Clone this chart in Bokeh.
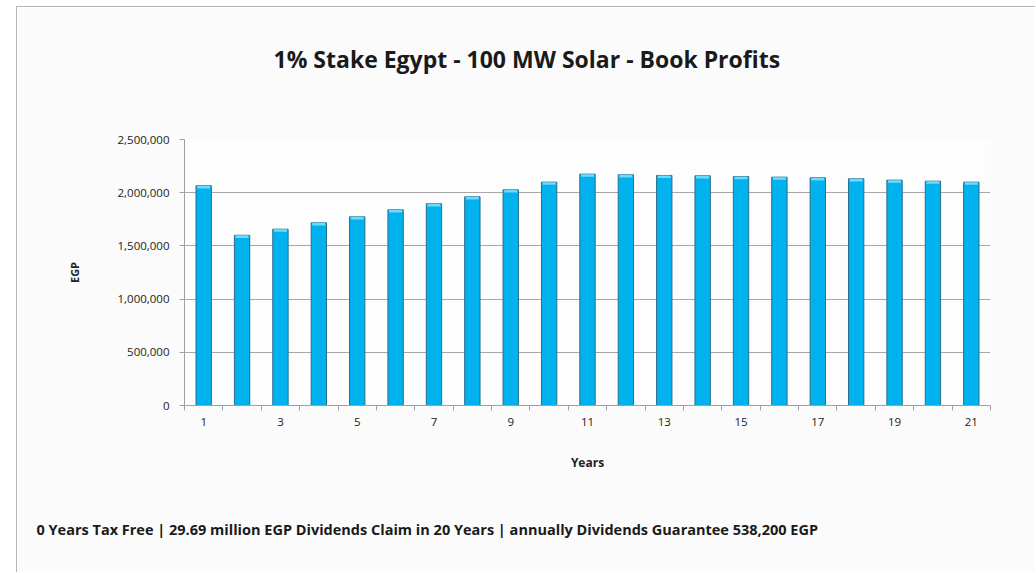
from bokeh.plotting import figure
from bokeh.models import FixedTicker, NumeralTickFormatter, Title, ColumnDataSource, Range1d
from bokeh.embed import file_html
from bokeh.resources import INLINE

years = list(range(1, 22))
profits = [2065000, 1600000, 1657000, 1717000, 1773000, 1839000, 1896000, 1961000,
           2027000, 2099000, 2174000, 2168000, 2162000, 2159000, 2152000, 2146000,
           2140000, 2131000, 2118000, 2108000, 2099000]
tick_labels_years = [y for y in years if y % 2 == 1]
y_ticks = [0, 500000, 1000000, 1500000, 2000000, 2500000]

title_text = "1% Stake Egypt - 100 MW Solar - Book Profits"
footer_text = "0 Years Tax Free | 29.69 million EGP Dividends Claim in 20 Years | annually Dividends Guarantee 538,200 EGP"

FONT = "Open Sans"

cap_bottom = [v - 25000 for v in profits]
src = ColumnDataSource(dict(x=years, top=profits, cap=cap_bottom))

p = figure(width=1019, height=566, output_backend="svg", toolbar_location=None,
           x_range=Range1d(0.5, 21.5), y_range=Range1d(0, 2500000),
           min_border_left=167, min_border_right=46, min_border_top=132, min_border_bottom=168)

p.styles = {"margin-left": "16px", "margin-top": "6px",
            "border-left": "1px solid #b4b4b4", "border-top": "1px solid #b4b4b4"}

p.background_fill_color = "#fdfdfd"
p.border_fill_color = "#fbfbfb"
p.outline_line_color = None

p.vbar(x="x", top="top", bottom=0, width=0.4, source=src,
       fill_color="#00B2EE", line_color="#256F8C", line_width=1)
p.vbar(x="x", top="top", bottom="cap", width=0.34, source=src,
       fill_color="#7FE2FF", line_color=None, fill_alpha=0.85)

# title (a blank second line lifts the text towards the top)
p.title.text = title_text + "\n\u00a0"
p.title.align = "left"
p.title.offset = 89
p.title.text_font = FONT
p.title.text_font_style = "bold"
p.title.text_font_size = "23px"
p.title.text_color = "#1a1a1a"
p.title.standoff = 65

# x axis
xa = p.xaxis[0]
xa.ticker = FixedTicker(ticks=tick_labels_years, minor_ticks=[y + 0.5 for y in [0] + years])
xa.major_tick_line_color = None
xa.minor_tick_line_color = "#a0a0a0"
xa.minor_tick_out = 5
xa.minor_tick_in = 0
xa.axis_line_color = "#a0a0a0"
xa.major_label_text_font = FONT
xa.major_label_text_font_size = "11.5px"
xa.major_label_text_color = "#222222"
xa.major_label_standoff = 6
xa.axis_label = "Years"
xa.axis_label_text_font = FONT
xa.axis_label_text_font_style = "bold"
xa.axis_label_text_font_size = "12px"
xa.axis_label_text_color = "#222222"
xa.axis_label_standoff = 25

# y axis
ya = p.yaxis[0]
ya.ticker = FixedTicker(ticks=y_ticks)
ya.formatter = NumeralTickFormatter(format="0,0")
ya.minor_tick_line_color = None
ya.major_tick_line_color = "#a0a0a0"
ya.major_tick_out = 5
ya.major_tick_in = 0
ya.axis_line_color = "#a0a0a0"
ya.major_label_text_font = FONT
ya.major_label_text_font_size = "11.5px"
ya.major_label_text_color = "#222222"
ya.major_label_standoff = 10
ya.axis_label = "EGP"
ya.axis_label_text_font = FONT
ya.axis_label_text_font_style = "bold"
ya.axis_label_text_font_size = "11px"
ya.axis_label_text_color = "#222222"
ya.axis_label_standoff = 33

p.xgrid.grid_line_color = None
p.ygrid.grid_line_color = "#a8a8a8"
p.ygrid.grid_line_width = 1

foot = Title(text="\u00a0\n" + footer_text, align="left", text_font=FONT, text_font_style="bold",
             text_font_size="14.5px", text_color="#1a1a1a", offset=-148, standoff=50)
p.add_layout(foot, "below")

open("out.html", "w").write(file_html(p, INLINE))
